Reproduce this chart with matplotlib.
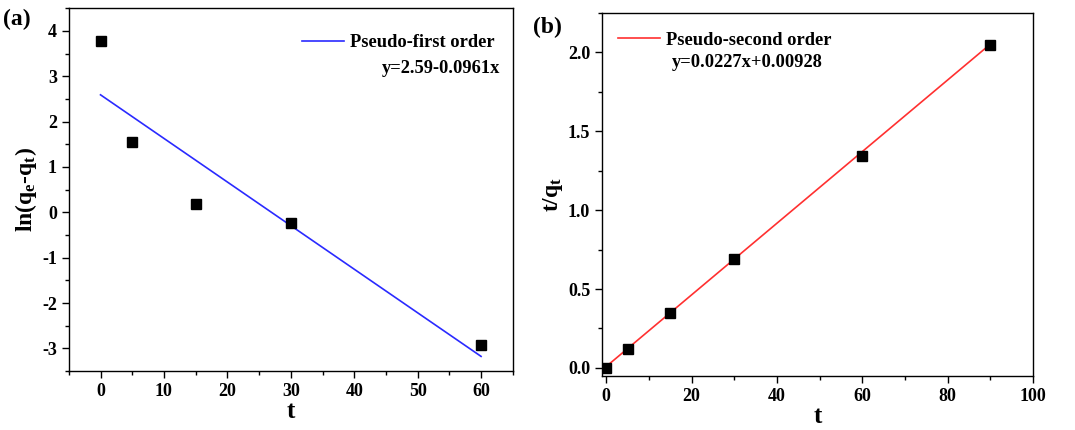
import matplotlib.pyplot as plt
import numpy as np

plt.rcParams['font.family'] = ['Liberation Serif', 'DejaVu Serif']
plt.rcParams['font.weight'] = 'bold'
plt.rcParams['axes.unicode_minus'] = False
plt.rcParams['mathtext.fontset'] = 'custom'
plt.rcParams['mathtext.rm'] = 'Liberation Serif:bold'
plt.rcParams['mathtext.it'] = 'Liberation Serif:bold'
plt.rcParams['mathtext.bf'] = 'Liberation Serif:bold'

# pseudo-first order data
t_first = [0, 5, 15, 30, 60]
ln_first = [3.77, 1.55, 0.18, -0.24, -2.92]
a_first, b_first = 2.59, -0.0961

# pseudo-second order data
t_second = [0, 5, 15, 30, 60, 90]
tq_second = [-0.003, 0.12, 0.348, 0.693, 1.34, 2.048]
k_second, c_second = 0.0227, 0.00928

fig = plt.figure(figsize=(10.75, 4.3), dpi=100)
ax1 = fig.add_axes([0.064, 0.137, 0.413, 0.844])
ax2 = fig.add_axes([0.560, 0.126, 0.401, 0.844])


def style_axes(ax):
    for s in ax.spines.values():
        s.set_linewidth(1.0)
    ax.tick_params(which='both', direction='out', top=False, right=False, labelsize=13)
    ax.tick_params(which='major', length=5, width=1)
    ax.tick_params(which='minor', length=3, width=1)
    for lab in ax.get_xticklabels() + ax.get_yticklabels():
        lab.set_fontweight('bold')


# panel (a)
xfit = np.array([t_first[0], t_first[-1]])
ax1.plot(xfit, a_first + b_first * xfit, color='#2a2aff', lw=1.2, label='Pseudo-first order')
ax1.plot(t_first, ln_first, 's', color='black', ms=7, ls='none')
ax1.set_xlim(-5, 65)
ax1.set_ylim(-3.5, 4.5)
ax1.set_xticks(range(0, 61, 10))
ax1.set_xticks(range(-5, 66, 5), minor=True)
ax1.set_yticks(range(-3, 5))
ax1.set_yticks(np.arange(-3.5, 4.6, 0.5), minor=True)
ax1.set_xlabel('t', fontsize=18, fontweight='bold', labelpad=0)
ax1.set_ylabel(r'ln(q$_\mathregular{e}$-q$_\mathregular{t}$)', fontsize=17, fontweight='bold', labelpad=2)
style_axes(ax1)
ax1.legend(loc='upper right', frameon=False, prop={'size': 13.3, 'weight': 'bold'},
           handlelength=2.3, handletextpad=0.3, borderaxespad=0.0, bbox_to_anchor=(0.975, 0.948))
ax1.text(0.972, 0.834, 'y=2.59-0.0961x', transform=ax1.transAxes, ha='right', va='center',
         fontsize=13.3, fontweight='bold')
fig.text(0.003, 0.955, '(a)', fontsize=17, fontweight='bold', va='center')

# panel (b)
xfit2 = np.array([t_second[0], t_second[-1]])
ax2.plot(xfit2, k_second * xfit2 + c_second, color='#ff3030', lw=1.2, label='Pseudo-second order')
ax2.plot(t_second, tq_second, 's', color='black', ms=7, ls='none')
ax2.set_xlim(-1, 100)
ax2.set_ylim(-0.05, 2.25)
ax2.set_xticks(range(0, 101, 20))
ax2.set_xticks(range(0, 101, 10), minor=True)
ax2.set_yticks([0.0, 0.5, 1.0, 1.5, 2.0])
ax2.set_yticks(np.arange(0, 2.26, 0.25), minor=True)
ax2.yaxis.set_major_formatter(plt.FormatStrFormatter('%.1f'))
ax2.set_xlabel('t', fontsize=18, fontweight='bold', labelpad=0)
ax2.set_ylabel(r't/q$_\mathregular{t}$', fontsize=17, fontweight='bold', labelpad=2)
style_axes(ax2)
ax2.legend(loc='upper left', frameon=False, prop={'size': 13.3, 'weight': 'bold'},
           handlelength=2.3, handletextpad=0.3, borderaxespad=0.0, bbox_to_anchor=(0.02, 0.968))
ax2.text(0.163, 0.862, 'y=0.0227x+0.00928', transform=ax2.transAxes, ha='left', va='center',
         fontsize=13.3, fontweight='bold')
fig.text(0.496, 0.937, '(b)', fontsize=17, fontweight='bold', va='center')

fig.savefig('out.png', dpi=100)
